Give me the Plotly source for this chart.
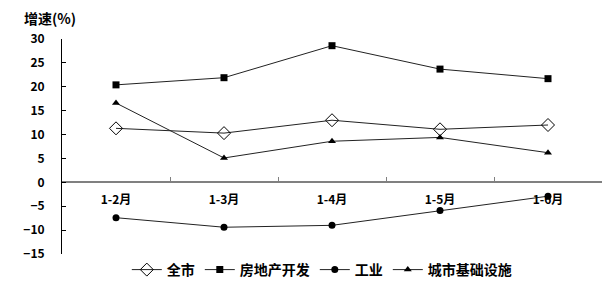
import plotly.graph_objects as go

categories = ["1-2月", "1-3月", "1-4月", "1-5月", "1-6月"]
quanshi = [11.3, 10.3, 13.0, 11.1, 12.0]
fangdichan = [20.4, 21.9, 28.6, 23.7, 21.7]
gongye = [-7.4, -9.4, -9.0, -5.9, -2.9]
jichusheshi = [16.6, 5.1, 8.6, 9.4, 6.2]
y_ticks = [-15, -10, -5, 0, 5, 10, 15, 20, 25, 30]

FONT = "Noto Sans CJK SC"
fig = go.Figure()
series = [
    ("全市", quanshi, dict(symbol="diamond-open", size=10, color="black", line=dict(width=1, color="black"))),
    ("房地产开发", fangdichan, dict(symbol="square", size=7, color="black")),
    ("工业", gongye, dict(symbol="circle", size=7, color="black")),
    ("城市基础设施", jichusheshi, dict(symbol="triangle-up", size=7, color="black")),
]
for name, vals, mk in series:
    fig.add_trace(go.Scatter(x=categories, y=vals, name=name, mode="lines+markers",
                             line=dict(color="#222", width=1), marker=mk))

fig.update_layout(
    width=613, height=299,
    margin=dict(l=62, r=11, t=39, b=45),
    paper_bgcolor="white", plot_bgcolor="white",
    font=dict(family=FONT, color="black", size=12),
    showlegend=True,
    legend=dict(orientation="h", x=0.12, xanchor="left", y=0.0, yanchor="top",
                font=dict(size=14, family=FONT, weight="bold"),
                itemwidth=30, tracegroupgap=0),
    xaxis=dict(type="category", range=[-0.5, 4.5], anchor="free", position=15 / 45,
               showline=True, linecolor="#808080", linewidth=2,
               ticks="inside", ticklen=4, tickcolor="#808080", tickson="boundaries",
               showgrid=False, zeroline=False,
               tickfont=dict(size=12, family=FONT, weight="bold"), ticklabelstandoff=6),
    yaxis=dict(range=[-15, 30], tickvals=y_ticks, showline=True, linecolor="black", linewidth=1,
               ticks="inside", ticklen=4, tickcolor="black", showgrid=False, zeroline=False,
               tickfont=dict(size=12, family=FONT, weight="bold"), ticklabelstandoff=14),
    annotations=[dict(text="增速(%)", xref="paper", yref="paper", x=-0.075, y=1.04,
                      xanchor="left", yanchor="bottom", showarrow=False,
                      font=dict(size=14, family=FONT, weight="bold"))],
)
fig.write_html("out.html")
